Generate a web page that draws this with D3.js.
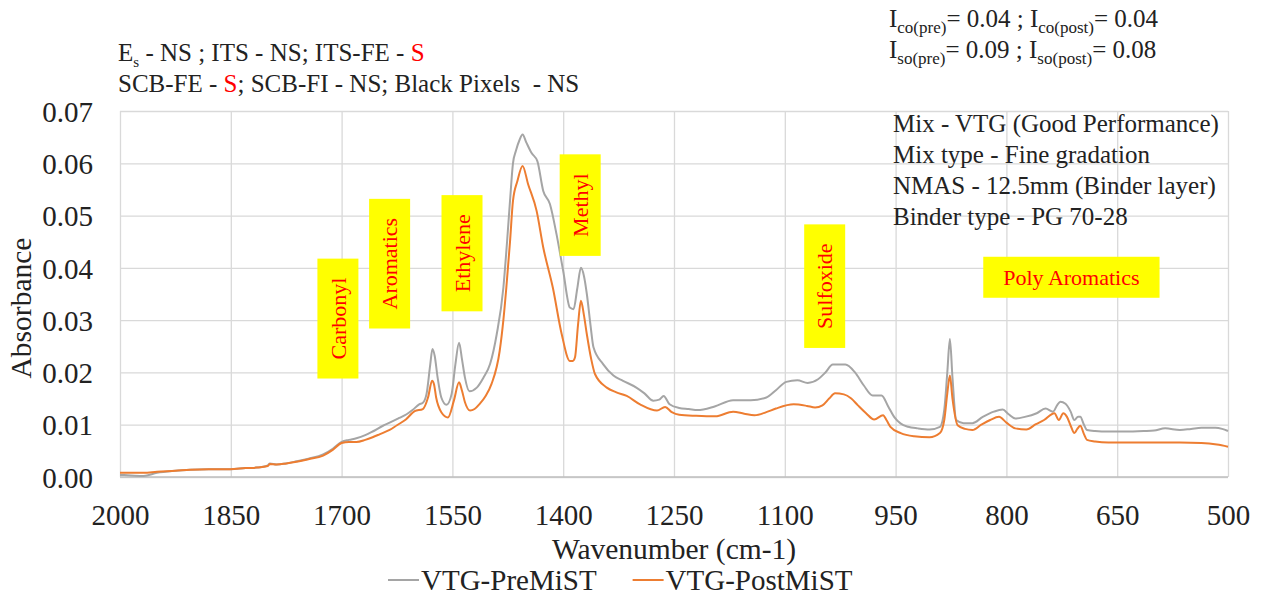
<!DOCTYPE html>
<html>
<head>
<meta charset="utf-8">
<script src="https://cdn.jsdelivr.net/npm/d3@7"></script>
<style>
  body { margin: 0; background: #fff; }
  svg { display: block; }
  text { font-family: "Liberation Serif", "Times New Roman", serif; }
</style>
</head>
<body>
<svg id="chart" width="1268" height="601"></svg>
<script>
// FTIR spectra of the VTG binder before and after MiST conditioning
const preWavenumber = [2000,1985,1968,1950,1925,1905,1880,1851,1830,1815,1800,1797,1788,1775,1761,1745,1725,1712,1700,1690,1680,1668,1658,1644,1635,1622,1612,1604,1595,1590,1585,1580,1577,1574,1570,1565,1558,1551,1546,1541,1537,1533,1527,1517,1508,1499,1490,1481,1476,1472,1468,1464,1459,1455,1450,1443,1435,1427,1418,1409,1400,1391,1386,1381,1376,1372,1368,1363,1359,1346,1332,1319,1301,1290,1278,1270,1264,1256,1243,1230,1218,1195,1170,1146,1125,1112,1098,1083,1069,1055,1045,1035,1018,1005,993,981,969,960,952,943,933,920,904,890,884,880,876.5,873,868,858,846,832,817,805,797,788,775,759,747,737,731,727,720,713,708,703,700,695,691,680,662,640,614,600,585,565,550,536,517,508,500];
const preAbsorbance = [0.0004,0.0003,0.0002,0.0008,0.0012,0.0014,0.0015,0.0015,0.0017,0.0018,0.0022,0.0026,0.0024,0.0026,0.0030,0.0035,0.0043,0.0054,0.0067,0.0071,0.0074,0.0080,0.0087,0.0098,0.0104,0.0113,0.0120,0.0128,0.0139,0.0142,0.0159,0.0215,0.0245,0.0232,0.0190,0.0152,0.0138,0.0159,0.0215,0.0257,0.0225,0.0190,0.0164,0.0171,0.0190,0.0216,0.0273,0.0362,0.0450,0.0528,0.0600,0.0624,0.0645,0.0655,0.0640,0.0620,0.0604,0.0547,0.0522,0.0464,0.0394,0.0324,0.0321,0.0360,0.0400,0.0385,0.0350,0.0290,0.0248,0.0216,0.0194,0.0184,0.0171,0.0160,0.0146,0.0148,0.0155,0.0139,0.0132,0.0130,0.0128,0.0135,0.0147,0.0147,0.0152,0.0166,0.0182,0.0185,0.0180,0.0187,0.0200,0.0215,0.0215,0.0200,0.0175,0.0156,0.0156,0.0135,0.0115,0.0102,0.0096,0.0093,0.0091,0.0096,0.0130,0.0200,0.0264,0.0190,0.0109,0.0103,0.0103,0.0115,0.0125,0.0129,0.0120,0.0112,0.0115,0.0122,0.0131,0.0125,0.0138,0.0144,0.0140,0.0125,0.0109,0.0115,0.0115,0.0100,0.0090,0.0088,0.0087,0.0087,0.0088,0.0089,0.0093,0.0090,0.0092,0.0094,0.0094,0.0092,0.0088];

const postWavenumber = [2000,1985,1968,1950,1925,1905,1880,1851,1830,1815,1800,1797,1788,1775,1761,1745,1725,1712,1700,1690,1680,1668,1658,1648,1635,1625,1613,1601,1590,1583,1577.5,1575,1572,1565,1556,1548,1541,1537,1533,1526,1520,1513,1505,1497,1486,1481,1477,1472,1468,1462,1455,1447.5,1436,1427,1414,1402,1391,1387,1384,1380,1376,1372,1368,1362,1357,1341,1328,1314,1296,1273,1262,1253,1243,1220,1194,1170,1155,1141,1125,1112,1088,1070,1059,1049,1040,1032,1020,1010,1001,990,979,967,962,957,943,925,904,890,884,880,876.5,873,866,856,846,834,822,810,800,788,773,760,749,735,729,723,718,713,708,704,700,695,691,680,662,640,614,590,565,536,515,500];
const postAbsorbance = [0.0008,0.0008,0.0008,0.0010,0.0012,0.0014,0.0015,0.0015,0.0017,0.0018,0.0021,0.0025,0.0024,0.0026,0.0029,0.0034,0.0041,0.0052,0.0065,0.0067,0.0067,0.0071,0.0076,0.0082,0.0090,0.0099,0.0110,0.0126,0.0130,0.0152,0.0184,0.0178,0.0152,0.0124,0.0114,0.0146,0.0181,0.0165,0.0143,0.0127,0.0130,0.0140,0.0155,0.0178,0.0241,0.0300,0.0362,0.0450,0.0528,0.0566,0.0595,0.0560,0.0509,0.0439,0.0362,0.0273,0.0222,0.0222,0.0229,0.0290,0.0337,0.0310,0.0273,0.0225,0.0197,0.0171,0.0162,0.0155,0.0139,0.0127,0.0134,0.0124,0.0119,0.0117,0.0116,0.0125,0.0121,0.0118,0.0124,0.0131,0.0139,0.0136,0.0133,0.0137,0.0150,0.0160,0.0158,0.0150,0.0137,0.0122,0.0110,0.0118,0.0108,0.0096,0.0084,0.0078,0.0076,0.0084,0.0110,0.0160,0.0194,0.0150,0.0099,0.0092,0.0090,0.0100,0.0109,0.0115,0.0104,0.0093,0.0091,0.0101,0.0109,0.0122,0.0109,0.0122,0.0115,0.0098,0.0084,0.0092,0.0098,0.0082,0.0071,0.0068,0.0066,0.0066,0.0066,0.0066,0.0066,0.0065,0.0062,0.0058];

const seriesNames = ["VTG-PreMiST", "VTG-PostMiST"];
const seriesColors = ["#A5A5A5", "#ED7D31"];
const xTicks = [2000, 1850, 1700, 1550, 1400, 1250, 1100, 950, 800, 650, 500];
const yTicks = [0, 0.01, 0.02, 0.03, 0.04, 0.05, 0.06, 0.07];

// Functional-group labels: name, wavenumber and absorbance at the label centre, orientation
const bandNames = ["Carbonyl", "Aromatics", "Ethylene", "Methyl", "Sulfoxide", "Poly Aromatics"];
const bandWavenumber = [1705, 1635, 1537, 1377, 1046, 712];
const bandAbsorbance = [0.0303, 0.0408, 0.0428, 0.0520, 0.0365, 0.0382];
const bandVertical = [true, true, true, true, true, false];

const infoLines = ["Mix - VTG (Good Performance)", "Mix type - Fine gradation", "NMAS - 12.5mm (Binder layer)", "Binder type - PG 70-28"];

const svg = d3.select("#chart");
const margin = { left: 120, right: 40, top: 111, bottom: 124 };
const W = 1268, H = 601;
const plotW = W - margin.left - margin.right;
const plotH = H - margin.top - margin.bottom;

const x = d3.scaleLinear().domain([2000, 500]).range([margin.left, margin.left + plotW]);
const y = d3.scaleLinear().domain([0, 0.07]).range([margin.top + plotH, margin.top]);

// Gridlines
svg.append("g")
  .attr("transform", `translate(0,${margin.top + plotH})`)
  .call(d3.axisBottom(x).tickValues(xTicks).tickSize(-plotH).tickFormat(""))
  .call(g => g.select(".domain").remove())
  .call(g => g.selectAll("line").attr("stroke", "#D9D9D9").attr("stroke-width", 1.3));
svg.append("g")
  .attr("transform", `translate(${margin.left},0)`)
  .call(d3.axisLeft(y).tickValues(yTicks).tickSize(-plotW).tickFormat(""))
  .call(g => g.select(".domain").remove())
  .call(g => g.selectAll("line").attr("stroke", "#D9D9D9").attr("stroke-width", 1.3));
svg.append("line")
  .attr("x1", margin.left).attr("x2", margin.left + plotW)
  .attr("y1", y(0)).attr("y2", y(0))
  .attr("stroke", "#BFBFBF").attr("stroke-width", 1.3);

// Tick labels
svg.append("g")
  .attr("transform", `translate(0,${margin.top + plotH})`)
  .call(d3.axisBottom(x).tickValues(xTicks).tickSize(0).tickPadding(0).tickFormat(d3.format("d")))
  .call(g => g.select(".domain").remove())
  .call(g => g.selectAll("text")
    .attr("y", 48).attr("dy", null)
    .attr("font-size", 29).attr("font-family", "Liberation Serif").attr("fill", "#222"));
svg.append("g")
  .attr("transform", `translate(${margin.left},0)`)
  .call(d3.axisLeft(y).tickValues(yTicks).tickSize(0).tickPadding(0).tickFormat(d3.format(".2f")))
  .call(g => g.select(".domain").remove())
  .call(g => g.selectAll("text")
    .attr("x", -27).attr("dy", "0.35em")
    .attr("font-size", 29).attr("font-family", "Liberation Serif").attr("fill", "#222"));

// Axis titles
svg.append("text")
  .attr("x", margin.left + plotW / 2).attr("y", 559)
  .attr("text-anchor", "middle").attr("font-size", 29.5).attr("fill", "#222")
  .text("Wavenumber (cm-1)");
svg.append("text")
  .attr("transform", "translate(31,308) rotate(-90)")
  .attr("text-anchor", "middle").attr("font-size", 29.5).attr("fill", "#222")
  .text("Absorbance");

// Spectra
const line = d3.line().x(d => x(d[0])).y(d => y(d[1])).curve(d3.curveMonotoneX);
const series = [
  d3.zip(preWavenumber, preAbsorbance),
  d3.zip(postWavenumber, postAbsorbance)
];
svg.append("g").selectAll("path")
  .data(series)
  .join("path")
  .attr("d", line)
  .attr("fill", "none")
  .attr("stroke", (d, i) => seriesColors[i])
  .attr("stroke-width", 2)
  .attr("stroke-linejoin", "round");

// Band labels on yellow boxes
const bands = svg.append("g");
bandNames.forEach((name, i) => {
  const cx = x(bandWavenumber[i]), cy = y(bandAbsorbance[i]);
  const g = bands.append("g").attr("transform", `translate(${cx},${cy}) rotate(${bandVertical[i] ? -90 : 0})`);
  const rect = g.append("rect").attr("fill", "#FFFF00");
  const t = g.append("text")
    .attr("text-anchor", "middle").attr("dy", "0.35em")
    .attr("font-size", 22).attr("fill", "#FF0000")
    .text(name);
  const len = t.node().getComputedTextLength();
  const padX = bandVertical[i] ? 19 : 20, h = 41;
  rect.attr("x", -len / 2 - padX).attr("y", -h / 2).attr("width", len + 2 * padX).attr("height", h);
});

// Sample description
const info = svg.append("text").attr("font-size", 25).attr("fill", "#222");
infoLines.forEach((s, i) => info.append("tspan").attr("x", 893).attr("y", 132 + i * 31).text(s));

// Statistical significance notes
const sig = svg.append("text").attr("font-size", 25).attr("fill", "#222");
const l1 = [["E", null], ["s", "sub"], [" - NS ; ITS - NS; ITS-FE - ", null], ["S", "red"]];
const l2 = [["SCB-FE - ", null], ["S", "red"], ["; SCB-FI - NS; Black Pixels  - NS", null]];
function writeLine(parts, x0, y0) {
  parts.forEach(([s, kind], j) => {
    const ts = sig.append("tspan").text(s).style("white-space", "pre");
    if (j === 0) ts.attr("x", x0).attr("y", y0);
    if (kind === "sub") ts.attr("font-size", 15).attr("dy", 6);
    else if (j > 0 && parts[j - 1][1] === "sub") ts.attr("dy", -6);
    if (kind === "red") ts.attr("fill", "#FF0000");
  });
}
writeLine(l1, 118, 61);
writeLine(l2, 118, 92);

// Index values
const idx = svg.append("text").attr("font-size", 25).attr("fill", "#222");
const i1 = [["I", null], ["co(pre)", "sub"], ["= 0.04 ; I", null], ["co(post)", "sub"], ["= 0.04", null]];
const i2 = [["I", null], ["so(pre)", "sub"], ["= 0.09 ; I", null], ["so(post)", "sub"], ["= 0.08", null]];
function writeIdx(parts, x0, y0) {
  parts.forEach(([s, kind], j) => {
    const ts = idx.append("tspan").text(s).style("white-space", "pre");
    if (j === 0) ts.attr("x", x0).attr("y", y0);
    if (kind === "sub") ts.attr("font-size", 17).attr("dy", 6);
    else if (j > 0 && parts[j - 1][1] === "sub") ts.attr("dy", -6);
  });
}
writeIdx(i1, 889, 27);
writeIdx(i2, 889, 58);

// Legend
const legend = svg.append("g");
let lx = 388;
seriesNames.forEach((name, i) => {
  legend.append("line")
    .attr("x1", lx).attr("x2", lx + 31).attr("y1", 580).attr("y2", 580)
    .attr("stroke", seriesColors[i]).attr("stroke-width", 2);
  const t = legend.append("text")
    .attr("x", lx + 33).attr("y", 590)
    .attr("font-size", 29).attr("fill", "#222")
    .text(name);
  lx += 33 + t.node().getComputedTextLength() + 36;
});
</script>
</body>
</html>
